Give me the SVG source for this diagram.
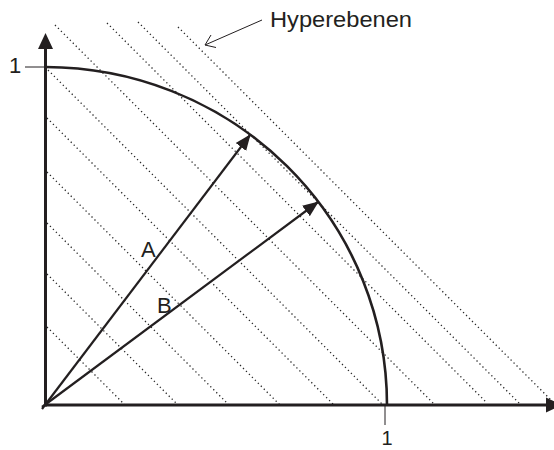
<svg xmlns="http://www.w3.org/2000/svg" width="554" height="450" viewBox="0 0 554 450">
  <style>
    .ax { stroke: #231f20; stroke-width: 3; fill: none; }
    .vec { stroke: #231f20; stroke-width: 2.2; fill: none; }
    .thin { stroke: #231f20; stroke-width: 1; fill: none; }
    .dot { stroke: #2a2a2a; stroke-width: 1.3; stroke-dasharray: 1.3 2.9; fill: none; }
    .lbl { font-family: "Liberation Sans", Arial, sans-serif; font-size: 22px; fill: #231f20; }
  </style>
  <defs>
    <marker id="head" markerUnits="userSpaceOnUse" viewBox="0 -7 16 14" markerWidth="16" markerHeight="14" refX="15" refY="0" orient="auto">
      <path d="M0,-6.5 L16,0 L0,6.5 z" fill="#231f20"/>
    </marker>
    <marker id="axhead" markerUnits="userSpaceOnUse" viewBox="0 -8 16 16" markerWidth="16" markerHeight="16" refX="1" refY="0" orient="auto">
      <path d="M0,-7.5 L16,0 L0,7.5 z" fill="#231f20"/>
    </marker>
  </defs>

  <g id="hyperplanes">
    <line class="dot" x1="47" y1="327" x2="125" y2="405"/>
    <line class="dot" x1="47" y1="274" x2="178" y2="405"/>
    <line class="dot" x1="47" y1="223" x2="229" y2="405"/>
    <line class="dot" x1="47" y1="172" x2="280" y2="405"/>
    <line class="dot" x1="47" y1="118" x2="334" y2="405"/>
    <line class="dot" x1="48" y1="70" x2="383" y2="405"/>
    <line class="dot" x1="55" y1="25" x2="435" y2="405"/>
    <line class="dot" x1="107" y1="23" x2="487" y2="403"/>
    <line class="dot" x1="138" y1="22" x2="521" y2="405"/>
    <line class="dot" x1="178" y1="27" x2="554" y2="403"/>
  </g>

  <g id="circle">
    <path class="ax" style="stroke-width:2.6" d="M45.5,67 A342,338 0 0 1 387,405"/>
  </g>

  <g id="axes">
    <line class="ax" x1="45.5" y1="406.5" x2="45.5" y2="48" marker-end="url(#axhead)"/>
    <line class="ax" x1="44" y1="405" x2="547" y2="405" marker-end="url(#axhead)"/>
    <line class="thin" x1="25" y1="67" x2="45" y2="67"/>
    <line class="thin" x1="385" y1="405" x2="385" y2="425"/>
    <text class="lbl" x="15" y="73" text-anchor="middle">1</text>
    <text class="lbl" x="387" y="445" text-anchor="middle" style="font-size:20px">1</text>
  </g>

  <g id="connectors">
    <line id="vecA" class="vec" x1="42" y1="409" x2="250" y2="135" marker-end="url(#head)"/>
    <line id="vecB" class="vec" x1="42" y1="407" x2="318" y2="202" marker-end="url(#head)"/>
    <path id="pointer" class="thin" d="M262,20 L205,45 M216,47.5 L205,45 L211,35"/>
  </g>

  <g id="labelA"><text class="lbl" x="141" y="257">A</text></g>
  <g id="labelB"><text class="lbl" x="157" y="313">B</text></g>
  <g id="labelHyperebenen"><text class="lbl" x="270" y="27" textLength="142" lengthAdjust="spacingAndGlyphs">Hyperebenen</text></g>
</svg>
